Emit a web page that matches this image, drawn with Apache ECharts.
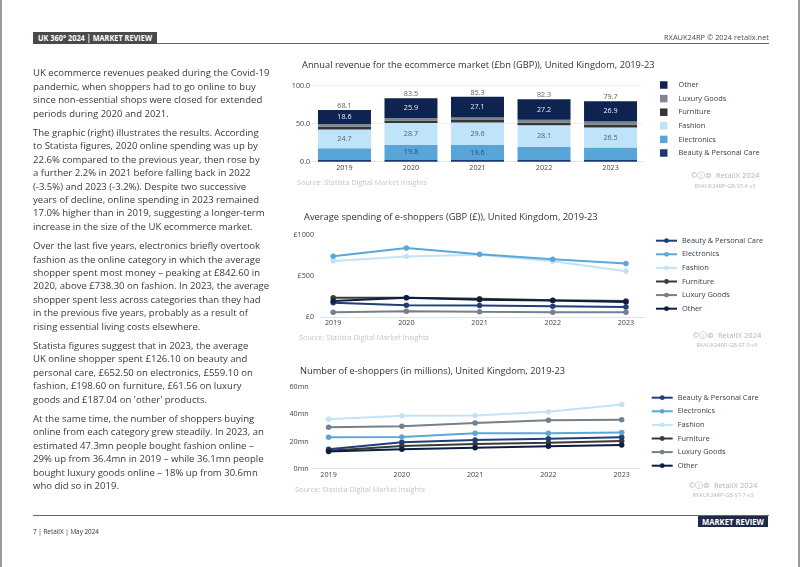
<!DOCTYPE html>
<html><head><meta charset="utf-8">
<script src="https://cdn.jsdelivr.net/npm/echarts@6/dist/echarts.min.js"></script>
<style>
html,body{margin:0;padding:0;background:#fff;}
#page{position:relative;width:802px;height:567px;overflow:hidden;font-family:'Open Sans',sans-serif;background:#fff;}
#chart{position:absolute;left:0;top:0;width:802px;height:567px;}
.abs{position:absolute;white-space:nowrap;}
#body{position:absolute;left:33px;top:66.3px;font-size:9.55px;line-height:13.4px;color:#3a3a3a;white-space:nowrap;}
#body p{margin:0 0 6px 0;}
.fit{display:inline-block;transform-origin:left center;}
</style></head>
<body>
<div id="page">
  <div id="chart"></div>
  <div class="abs" style="left:0;top:0;width:2px;height:567px;background:#9a9a9a"></div>
  <div class="abs" style="left:798px;top:0;width:2px;height:567px;background:#9a9a9a"></div>

  <div class="abs" style="left:33px;top:32px;width:124px;height:12px;background:#4a4a4a"></div>
  <div class="abs" style="left:38px;top:32px;height:12px;line-height:12px;font-size:8.5px;font-weight:700;color:#fff"><span class="fit" data-w="114">UK 360° 2024 | MARKET REVIEW</span></div>
  <div class="abs" style="left:157px;top:43px;width:612px;height:1px;background:#666"></div>
  <div class="abs" style="left:664px;top:31px;height:12px;line-height:12px;font-size:7.8px;color:#4a4a4a"><span class="fit" data-w="105">RXAUK24RP © 2024 retailx.net</span></div>

  <div id="body">
    <p>UK ecommerce revenues peaked during the Covid-19<br>pandemic, when shoppers had to go online to buy<br>since non-essential shops were closed for extended<br>periods during 2020 and 2021.</p>
    <p>The graphic (right) illustrates the results. According<br>to Statista figures, 2020 online spending was up by<br>22.6% compared to the previous year, then rose by<br>a further 2.2% in 2021 before falling back in 2022<br>(-3.5%) and 2023 (-3.2%). Despite two successive<br>years of decline, online spending in 2023 remained<br>17.0% higher than in 2019, suggesting a longer-term<br>increase in the size of the UK ecommerce market.</p>
    <p>Over the last five years, electronics briefly overtook<br>fashion as the online category in which the average<br>shopper spent most money – peaking at £842.60 in<br>2020, above £738.30 on fashion. In 2023, the average<br>shopper spent less across categories than they had<br>in the previous five years, probably as a result of<br>rising essential living costs elsewhere.</p>
    <p>Statista figures suggest that in 2023, the average<br>UK online shopper spent £126.10 on beauty and<br>personal care, £652.50 on electronics, £559.10 on<br>fashion, £198.60 on furniture, £61.56 on luxury<br>goods and £187.04 on 'other' products.</p>
    <p>At the same time, the number of shoppers buying<br>online from each category grew steadily. In 2023, an<br>estimated 47.3mn people bought fashion online –<br>29% up from 36.4mn in 2019 – while 36.1mn people<br>bought luxury goods online – 18% up from 30.6mn<br>who did so in 2019.</p>
  </div>

  <div class="abs" style="left:33px;top:515px;width:736px;height:1px;background:#666"></div>
  <div class="abs" style="left:698px;top:516px;width:70px;height:11px;background:#1f2a44"></div>
  <div class="abs" style="left:702px;top:516px;height:11px;line-height:11px;font-size:8px;font-weight:700;color:#fff"><span class="fit" data-w="62">MARKET REVIEW</span></div>
  <div class="abs" style="left:33px;top:525px;height:12px;line-height:12px;font-size:7.8px;color:#333"><span class="fit" data-w="66">7 | RetailX | May 2024</span></div>
</div>
<script>
// ---------- data ----------
const years = ['2019', '2020', '2021', '2022', '2023'];
const categories = ['Beauty & Personal Care', 'Electronics', 'Fashion', 'Furniture', 'Luxury Goods', 'Other'];

// Annual revenue (£bn)
const revBeauty      = [2.2, 2.3, 2.3, 2.2, 2.2];
const revElectronics = [15.4, 19.8, 19.6, 17.5, 16.4];
const revFashion     = [24.7, 28.7, 29.6, 28.1, 26.5];
const revFurniture   = [3.6, 3.5, 3.4, 3.6, 3.9];
const revLuxury      = [3.6, 3.3, 3.3, 3.7, 3.8];
const revOther       = [18.6, 25.9, 27.1, 27.2, 26.9];
const revTotals      = [68.1, 83.5, 85.3, 82.3, 79.7];
const revElectronicsLabelled = [false, true, true, false, false];

// Average spending (GBP)
const spendBeauty      = [177, 146, 142, 135, 126.10];
const spendElectronics = [741, 842.60, 765, 705, 652.50];
const spendFashion     = [684, 738.30, 760, 680, 559.10];
const spendFurniture   = [238, 238, 226, 208, 198.60];
const spendLuxury      = [62, 73, 67, 62, 61.56];
const spendOther       = [198, 238, 212, 205, 187.04];

// Number of e-shoppers (mn)
const shopBeauty      = [14.3, 19.5, 21.1, 22.1, 23.1];
const shopElectronics = [23.1, 23.4, 26.1, 26.1, 26.6];
const shopFashion     = [36.4, 39.1, 39.3, 42.0, 47.3];
const shopFurniture   = [13.3, 16.7, 18.2, 19.2, 20.4];
const shopLuxury      = [30.6, 31.2, 33.7, 35.8, 36.1];
const shopOther       = [12.6, 14.3, 15.5, 16.5, 17.5];

const yTicksRevenue = [0, 50, 100];
const yTicksSpend = [0, 500, 1000];
const yTicksShop = [0, 20, 40, 60];

// ---------- styling ----------
const FONT = "'Open Sans', sans-serif";
const barColors  = ['#1b3a74', '#58a6d9', '#bfe4fa', '#353535', '#7d878f', '#0f2350'];
const lineColors = ['#203f78', '#5ba7d8', '#c2e3f6', '#3a3a3a', '#74808b', '#0e1d42'];

// fit header/footer texts
document.querySelectorAll('.fit').forEach(el => {
  const w = el.getBoundingClientRect().width;
  const t = +el.dataset.w;
  el.style.transform = 'scaleX(' + (t / w) + ')';
});

const chart = echarts.init(document.getElementById('chart'), null, {renderer: 'canvas'});

const revData = [revBeauty, revElectronics, revFashion, revFurniture, revLuxury, revOther];
const spendData = [spendBeauty, spendElectronics, spendFashion, spendFurniture, spendLuxury, spendOther];
const shopData = [shopBeauty, shopElectronics, shopFashion, shopFurniture, shopLuxury, shopOther];

const labelCfg = {
  1: {show: i => revElectronicsLabelled[i], color: '#2b4d72'},
  2: {show: () => true, color: '#4d5d70'},
  5: {show: () => true, color: '#e6edf6'}
};

const series = [];
revData.forEach((arr, k) => {
  series.push({
    name: categories[k], type: 'bar', stack: 'rev', xAxisIndex: 0, yAxisIndex: 0,
    barWidth: 53, itemStyle: {color: barColors[k]},
    data: arr.map((v, i) => ({
      value: v,
      label: {show: labelCfg[k] ? labelCfg[k].show(i) : false,
              color: labelCfg[k] ? labelCfg[k].color : '#fff'}
    })),
    label: {position: 'inside', fontSize: 7.2, fontFamily: FONT, formatter: p => p.value.toFixed(1)},
    emphasis: {disabled: true}, animation: false
  });
});
series.push({
  name: 'totals', type: 'scatter', xAxisIndex: 0, yAxisIndex: 0, symbolSize: 1,
  itemStyle: {color: 'transparent'}, data: revTotals,
  label: {show: true, position: 'top', distance: 0, fontSize: 7.2, color: '#333', fontFamily: FONT,
          formatter: p => p.value.toFixed(1)},
  animation: false, silent: true
});
spendData.forEach((arr, k) => {
  series.push({
    name: categories[k] + ' ', type: 'line', xAxisIndex: 1, yAxisIndex: 1,
    symbol: 'circle', symbolSize: 5.5, lineStyle: {width: 2, color: lineColors[k]},
    itemStyle: {color: lineColors[k]},
    data: years.map((y, i) => [+y, arr[i]]), animation: false, z: k === 2 ? 1 : 2
  });
});
shopData.forEach((arr, k) => {
  series.push({
    name: categories[k] + '  ', type: 'line', xAxisIndex: 2, yAxisIndex: 2,
    symbol: 'circle', symbolSize: 5.5, lineStyle: {width: 2, color: lineColors[k]},
    itemStyle: {color: lineColors[k]},
    data: years.map((y, i) => [+y, arr[i]]), animation: false
  });
});

const axisLbl = {fontSize: 7.2, color: '#444', fontFamily: FONT};
const titleStyle = {fontSize: 9.3, color: '#333', fontWeight: 'normal', fontFamily: FONT};
const srcStyle = {fill: '#c2c6ca', fontSize: 7.3, fontFamily: FONT};
const rxStyle = {fill: '#b3b3b3', fontSize: 7.6, fontFamily: FONT};
const idStyle = {fill: '#b8b8b8', fontSize: 5.6, fontFamily: FONT};

const legendBase = {
  orient: 'vertical', itemGap: 2.6, selectedMode: false, padding: 0,
  textStyle: {fontSize: 7.4, color: '#34404d', fontFamily: FONT, lineHeight: 11},
  formatter: n => n.trim()
};

function caption(cx, y1, y2, id) {
  return [
    {type: 'text', x: cx, y: y1, style: Object.assign({text: '©ⓘ⊜  RetailX 2024', align: 'center', verticalAlign: 'middle'}, rxStyle)},
    {type: 'text', x: cx, y: y2, style: Object.assign({text: id, align: 'center', verticalAlign: 'middle'}, idStyle)}
  ];
}

const yAxisCommon = {axisLine: {show: false}, axisTick: {show: false}};

chart.setOption({
  animation: false,
  textStyle: {fontFamily: FONT},
  title: [
    {text: 'Annual revenue for the ecommerce market (£bn (GBP)), United Kingdom, 2019-23', left: 302, top: 61, textStyle: titleStyle, padding: 0},
    {text: 'Average spending of e-shoppers (GBP (£)), United Kingdom, 2019-23', left: 304, top: 213, textStyle: titleStyle, padding: 0},
    {text: 'Number of e-shoppers (in millions), United Kingdom, 2019-23', left: 300, top: 367, textStyle: titleStyle, padding: 0}
  ],
  grid: [
    {left: 311.2, right: 158.2, top: 85.7, bottom: 405.3},
    {left: 320, right: 157, top: 235, bottom: 249.7},
    {left: 311.7, right: 162, top: 387.3, bottom: 98.3}
  ],
  xAxis: [
    {type: 'category', gridIndex: 0, data: years, axisTick: {show: false},
     axisLine: {lineStyle: {color: '#e1e7ed'}}, axisLabel: Object.assign({margin: 3}, axisLbl)},
    {type: 'value', gridIndex: 1, min: 2018.82, max: 2023.26, splitLine: {show: false},
     axisTick: {show: false}, axisLine: {show: true, lineStyle: {color: '#dde5ec'}},
     axisLabel: Object.assign({margin: 2.5, customValues: years.map(Number), formatter: v => String(v)}, axisLbl)},
    {type: 'value', gridIndex: 2, min: 2018.77, max: 2023.25, splitLine: {show: false},
     axisTick: {show: false}, axisLine: {show: true, lineStyle: {color: '#dde5ec'}},
     axisLabel: Object.assign({margin: 3, customValues: years.map(Number), formatter: v => String(v)}, axisLbl)}
  ],
  yAxis: [
    Object.assign({type: 'value', gridIndex: 0, min: yTicksRevenue[0], max: yTicksRevenue[2], interval: 50,
     splitLine: {lineStyle: {color: '#eef1f4'}},
     axisLabel: Object.assign({margin: 1, formatter: v => v.toFixed(1)}, axisLbl)}, yAxisCommon),
    Object.assign({type: 'value', gridIndex: 1, min: yTicksSpend[0], max: yTicksSpend[2], interval: 500,
     splitLine: {show: false},
     axisLabel: Object.assign({margin: 6, formatter: v => '£' + v}, axisLbl)}, yAxisCommon),
    Object.assign({type: 'value', gridIndex: 2, min: yTicksShop[0], max: yTicksShop[3], interval: 20,
     splitLine: {show: false},
     axisLabel: Object.assign({margin: 3, formatter: v => v + 'mn'}, axisLbl)}, yAxisCommon)
  ],
  legend: [
    Object.assign({}, legendBase, {left: 660, top: 79.5, itemWidth: 7.5, itemHeight: 7.5, icon: 'rect',
      textStyle: Object.assign({}, legendBase.textStyle, {padding: [0, 0, 0, 6]}),
      data: ['Other', 'Luxury Goods', 'Furniture', 'Fashion', 'Electronics', 'Beauty & Personal Care']}),
    Object.assign({}, legendBase, {left: 655, top: 235.2, itemWidth: 21, itemHeight: 6,
      data: categories.map(c => c + ' ')}),
    Object.assign({}, legendBase, {left: 650.7, top: 392.2, itemWidth: 21, itemHeight: 6,
      data: categories.map(c => c + '  ')})
  ],
  graphic: [
    {type: 'text', x: 297, y: 183, style: Object.assign({text: 'Source: Statista Digital Market Insights', verticalAlign: 'middle'}, srcStyle)},
    {type: 'text', x: 299, y: 337.5, style: Object.assign({text: 'Source: Statista Digital Market Insights', verticalAlign: 'middle'}, srcStyle)},
    {type: 'text', x: 295, y: 489.5, style: Object.assign({text: 'Source: Statista Digital Market Insights', verticalAlign: 'middle'}, srcStyle)}
  ].concat(caption(725, 176, 186.5, 'RXAUK24RP-GB-ST-4-v3'))
   .concat(caption(727, 336, 345.7, 'RXAUK24RP-GB-ST-3-v6'))
   .concat(caption(723, 485.7, 495.7, 'RXAUK24RP-GB-ST-7-v3')),
  series: series
});
</script>
</body></html>
